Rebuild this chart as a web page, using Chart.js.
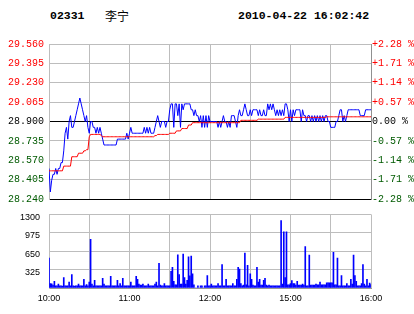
<!DOCTYPE html>
<html>
<head>
<meta charset="utf-8">
<script src="https://cdn.jsdelivr.net/npm/chart.js@4/dist/chart.umd.min.js"></script>
<style>
  body { margin: 0; background: #fff; width: 414px; height: 314px; overflow: hidden; position: relative; }
  .t { position: absolute; top: 10px; font: bold 11.5px "Liberation Mono", monospace; line-height: 12px; color: #000; white-space: pre; }
  .cn { position: absolute; top: 9px; left: 105px; font: 12px "Noto Sans CJK SC", sans-serif; line-height: 14px; color: #000; }
  canvas { position: absolute; left: 0; }
</style>
</head>
<body>
<div class="t" style="left:50px">02331</div>
<div class="cn">李宁</div>
<div class="t" style="left:238px">2010-04-22 16:02:42</div>
<canvas id="price" width="414" height="210" style="top:0"></canvas>
<canvas id="volume" width="414" height="114" style="top:200px"></canvas>
<script>
// minute index 0 = 10:00, 240 = 16:00 (lunch 12:30-14:30 skipped)
const timeTicks = [0, 30, 60, 90, 120, 150, 180, 210, 240];
const timeLabelAt = [0, 60, 120, 180, 240];
const timeLabels = ['10:00', '11:00', '12:00', '15:00', '16:00'];

const prevClose = 28.90;
const priceTicks = [28.240, 28.405, 28.570, 28.735, 28.900, 29.065, 29.230, 29.395, 29.560];
const pctTicks = [-2.28, -1.71, -1.14, -0.57, 0, 0.57, 1.14, 1.71, 2.28];
const volTicks = [0, 325, 650, 975, 1300];

const price = [
  28.50, 28.30, 28.40, 28.45, 28.45, 28.50, 28.45, 28.50, 28.50, 28.55,
  28.55, 28.65, 28.80, 28.85, 28.75, 28.90, 28.95, 28.85, 28.85, 28.90,
  28.95, 29.00, 29.05, 29.10, 29.05, 29.00, 28.95, 28.90, 28.95, 28.85,
  28.80, 28.90, 28.90, 28.85, 28.85, 28.80, 28.85, 28.80, 28.85, 28.80,
  28.75, 28.70, 28.70, 28.70, 28.70, 28.70, 28.70, 28.70, 28.70, 28.70,
  28.70, 28.75, 28.75, 28.75, 28.75, 28.75, 28.75, 28.75, 28.80, 28.75,
  28.80, 28.85, 28.80, 28.80, 28.80, 28.80, 28.80, 28.80, 28.80, 28.80,
  28.80, 28.85, 28.80, 28.85, 28.80, 28.85, 28.80, 28.80, 28.80, 28.85,
  28.90, 28.95, 28.90, 28.85, 28.90, 28.90, 28.90, 28.85, 28.90, 28.90,
  29.00, 29.05, 29.05, 28.85, 29.05, 29.05, 28.95, 29.05, 28.85, 29.05,
  29.00, 29.05, 29.05, 29.05, 29.05, 29.05, 29.00, 29.00, 28.95, 29.00,
  28.95, 28.95, 28.90, 28.95, 28.85, 28.95, 28.85, 28.95, 28.85, 28.95,
  28.90, 28.90, 28.90, 28.90, 28.90, 28.90, 28.85, 28.90, 28.85, 28.90,
  28.95, 28.90, 28.90, 28.85, 28.90, 28.85, 28.95, 28.95, 28.95, 28.90,
  28.85, 28.95, 29.00, 28.95, 28.95, 29.00, 29.05, 29.00, 28.95, 28.95,
  29.00, 28.95, 29.00, 29.00, 29.00, 29.00, 28.95, 29.00, 28.95, 28.95,
  29.00, 28.95, 28.95, 29.05, 29.00, 29.05, 29.00, 29.05, 29.00, 28.95,
  29.00, 28.95, 29.00, 28.95, 29.00, 28.95, 29.05, 29.05, 29.00, 28.90,
  29.00, 28.90, 29.00, 28.95, 29.00, 29.00, 29.00, 29.00, 28.90, 29.00,
  28.95, 28.95, 28.90, 28.95, 28.95, 28.90, 28.95, 28.90, 28.95, 28.90,
  28.95, 28.90, 28.95, 28.90, 28.95, 28.90, 28.95, 28.95, 28.90, 28.90,
  28.85, 28.85, 28.85, 28.85, 28.90, 28.90, 28.95, 29.00, 29.00, 28.90,
  28.95, 28.90, 28.95, 29.00, 29.00, 29.00, 29.00, 29.00, 29.00, 29.00,
  29.00, 29.00, 28.95, 28.95, 28.95, 28.95, 29.00, 29.00, 29.00, 29.00,
  29.00
];

const avgPrice = [
  28.48, 28.48, 28.48, 28.48, 28.48, 28.48, 28.48, 28.48, 28.48, 28.48,
  28.48, 28.52, 28.52, 28.52, 28.52, 28.52, 28.52, 28.60, 28.60, 28.60,
  28.60, 28.60, 28.63, 28.63, 28.63, 28.63, 28.65, 28.65, 28.66, 28.66,
  28.77, 28.79, 28.79, 28.79, 28.79, 28.79, 28.79, 28.79, 28.79, 28.78,
  28.77, 28.77, 28.77, 28.77, 28.77, 28.77, 28.77, 28.77, 28.77, 28.77,
  28.77, 28.77, 28.77, 28.77, 28.77, 28.77, 28.77, 28.77, 28.77, 28.77,
  28.77, 28.77, 28.77, 28.77, 28.77, 28.77, 28.77, 28.77, 28.77, 28.77,
  28.77, 28.77, 28.77, 28.77, 28.77, 28.77, 28.77, 28.77, 28.77, 28.78,
  28.78, 28.79, 28.79, 28.79, 28.79, 28.79, 28.79, 28.79, 28.79, 28.79,
  28.80, 28.80, 28.80, 28.80, 28.80, 28.82, 28.82, 28.82, 28.82, 28.84,
  28.84, 28.84, 28.84, 28.84, 28.87, 28.87, 28.87, 28.89, 28.89, 28.89,
  28.89, 28.89, 28.89, 28.89, 28.89, 28.89, 28.89, 28.89, 28.89, 28.89,
  28.89, 28.89, 28.89, 28.89, 28.89, 28.89, 28.89, 28.89, 28.89, 28.89,
  28.89, 28.89, 28.89, 28.89, 28.89, 28.89, 28.89, 28.89, 28.89, 28.89,
  28.89, 28.89, 28.89, 28.91, 28.91, 28.91, 28.91, 28.91, 28.91, 28.91,
  28.91, 28.91, 28.91, 28.91, 28.91, 28.91, 28.92, 28.92, 28.92, 28.92,
  28.92, 28.92, 28.92, 28.92, 28.92, 28.92, 28.92, 28.92, 28.92, 28.92,
  28.92, 28.92, 28.92, 28.92, 28.92, 28.92, 28.935, 28.935, 28.935, 28.935,
  28.935, 28.935, 28.935, 28.935, 28.935, 28.935, 28.935, 28.935, 28.935, 28.935,
  28.935, 28.935, 28.935, 28.935, 28.935, 28.935, 28.935, 28.935, 28.935, 28.935,
  28.935, 28.935, 28.935, 28.935, 28.935, 28.935, 28.935, 28.94, 28.94, 28.94,
  28.94, 28.94, 28.94, 28.94, 28.94, 28.94, 28.94, 28.94, 28.94, 28.94,
  28.94, 28.94, 28.94, 28.94, 28.94, 28.94, 28.94, 28.94, 28.94, 28.94,
  28.94, 28.94, 28.94, 28.94, 28.94, 28.94, 28.94, 28.94, 28.94, 28.94,
  28.94
];

const volume = [
  530, 80, 75, 50, 120, 40, 40, 70, 40, 40,
  35, 185, 40, 40, 40, 105, 40, 235, 40, 35,
  40, 40, 70, 40, 40, 40, 155, 40, 60, 40,
  105, 860, 70, 40, 135, 40, 40, 40, 40, 40,
  170, 70, 40, 40, 40, 40, 205, 40, 40, 40,
  40, 135, 40, 80, 40, 170, 40, 40, 40, 40,
  40, 105, 40, 40, 40, 205, 155, 70, 50, 50,
  70, 40, 40, 40, 70, 40, 40, 40, 40, 70,
  105, 40, 435, 50, 40, 40, 80, 40, 40, 40,
  40, 295, 365, 120, 55, 55, 585, 235, 70, 70,
  600, 185, 70, 135, 550, 215, 565, 250, 55, 0,
  0, 40, 0, 40, 40, 0, 40, 40, 220, 40,
  40, 70, 40, 40, 40, 40, 80, 40, 40, 415,
  40, 40, 155, 40, 40, 40, 40, 80, 40, 40,
  155, 365, 335, 80, 40, 50, 615, 55, 400, 40,
  250, 155, 50, 40, 40, 365, 105, 155, 50, 50,
  135, 170, 50, 40, 50, 40, 40, 40, 40, 40,
  40, 40, 40, 1190, 70, 990, 185, 990, 55, 55,
  80, 130, 80, 80, 50, 120, 50, 50, 50, 70,
  50, 730, 40, 40, 580, 50, 50, 50, 50, 70,
  55, 55, 105, 55, 55, 55, 55, 90, 90, 90,
  90, 90, 630, 55, 55, 530, 40, 40, 220, 40,
  40, 40, 80, 40, 40, 155, 70, 580, 220, 120,
  40, 40, 40, 80, 415, 70, 40, 155, 40, 85,
  60
];

const RED = '#ff0000';
const GREEN = '#005a00';
const GRID = '#bdbdbd';
const monoFont = { family: '"Liberation Mono", monospace', size: 10 };
const sansFont = { family: '"Liberation Sans", Arial, sans-serif', size: 9 };

function sideColor(v, mid) {
  if (Math.abs(v - mid) < 1e-6) return '#000';
  return v > mid ? RED : GREEN;
}

new Chart(document.getElementById('price'), {
  type: 'line',
  data: {
    datasets: [
      { data: avgPrice.map((v, i) => ({ x: i, y: v })), borderColor: RED, borderWidth: 1, pointRadius: 0, tension: 0 },
      { data: price.map((v, i) => ({ x: i, y: v })), borderColor: '#0000ff', borderWidth: 1, pointRadius: 0, tension: 0 }
    ]
  },
  options: {
    responsive: false,
    animation: false,
    events: [],
    layout: { padding: { top: 44, bottom: 7, left: 0, right: 0 } },
    plugins: { legend: { display: false }, tooltip: { enabled: false } },
    scales: {
      x: {
        type: 'linear', min: 0, max: 240,
        afterBuildTicks: s => { s.ticks = timeTicks.map(v => ({ value: v })); },
        ticks: { display: false },
        grid: { color: GRID, drawTicks: false },
        border: { color: '#000' },
        afterFit: s => { s.height = 0; }
      },
      y: {
        position: 'left', min: 28.24, max: 29.56,
        afterBuildTicks: s => { s.ticks = priceTicks.map(v => ({ value: v })); },
        ticks: {
          font: monoFont, padding: 5,
          color: ctx => sideColor(ctx.tick.value, prevClose),
          callback: v => v.toFixed(3)
        },
        grid: {
          drawTicks: false,
          color: ctx => (Math.abs(ctx.tick.value - prevClose) < 1e-6 || Math.abs(ctx.tick.value - 28.24) < 1e-6) ? '#000' : GRID
        },
        border: { color: GRID },
        afterFit: s => { s.width = 49; }
      },
      y1: {
        position: 'right', min: -2.28, max: 2.28,
        afterBuildTicks: s => { s.ticks = pctTicks.map(v => ({ value: v })); },
        ticks: {
          font: monoFont, padding: 1,
          color: ctx => sideColor(ctx.tick.value, 0),
          callback: v => (v > 0 ? '+' : '') + v.toFixed(2) + ' %'
        },
        grid: { display: false, drawTicks: false },
        border: { color: '#909090' },
        afterFit: s => { s.width = 43; }
      }
    }
  }
});

new Chart(document.getElementById('volume'), {
  type: 'bar',
  data: {
    datasets: [
      { data: volume.map((v, i) => ({ x: i, y: v })), backgroundColor: '#0000ff', borderWidth: 0, barThickness: 1 }
    ]
  },
  options: {
    responsive: false,
    animation: false,
    events: [],
    layout: { padding: { top: 9, bottom: 0, left: 0, right: 43 } },
    plugins: { legend: { display: false }, tooltip: { enabled: false } },
    scales: {
      x: {
        type: 'linear', min: 0, max: 240, offset: false,
        afterBuildTicks: s => { s.ticks = timeTicks.map(v => ({ value: v })); },
        ticks: {
          font: sansFont, color: '#000', padding: 5, maxRotation: 0, autoSkip: false,
          callback: v => { const k = timeLabelAt.indexOf(v); return k >= 0 ? timeLabels[k] : ''; }
        },
        grid: { color: GRID, drawTicks: false, offset: false },
        border: { color: '#999' },
        afterFit: s => { s.height = 26; }
      },
      y: {
        position: 'left', min: 0, max: 1300,
        afterBuildTicks: s => { s.ticks = volTicks.map(v => ({ value: v })); },
        ticks: {
          font: sansFont, color: '#000', padding: 9, labelOffset: 3,
          callback: v => v === 0 ? '' : String(v)
        },
        grid: { color: GRID, drawTicks: false },
        border: { color: GRID },
        afterFit: s => { s.width = 49; }
      }
    }
  }
});
</script>
</body>
</html>
